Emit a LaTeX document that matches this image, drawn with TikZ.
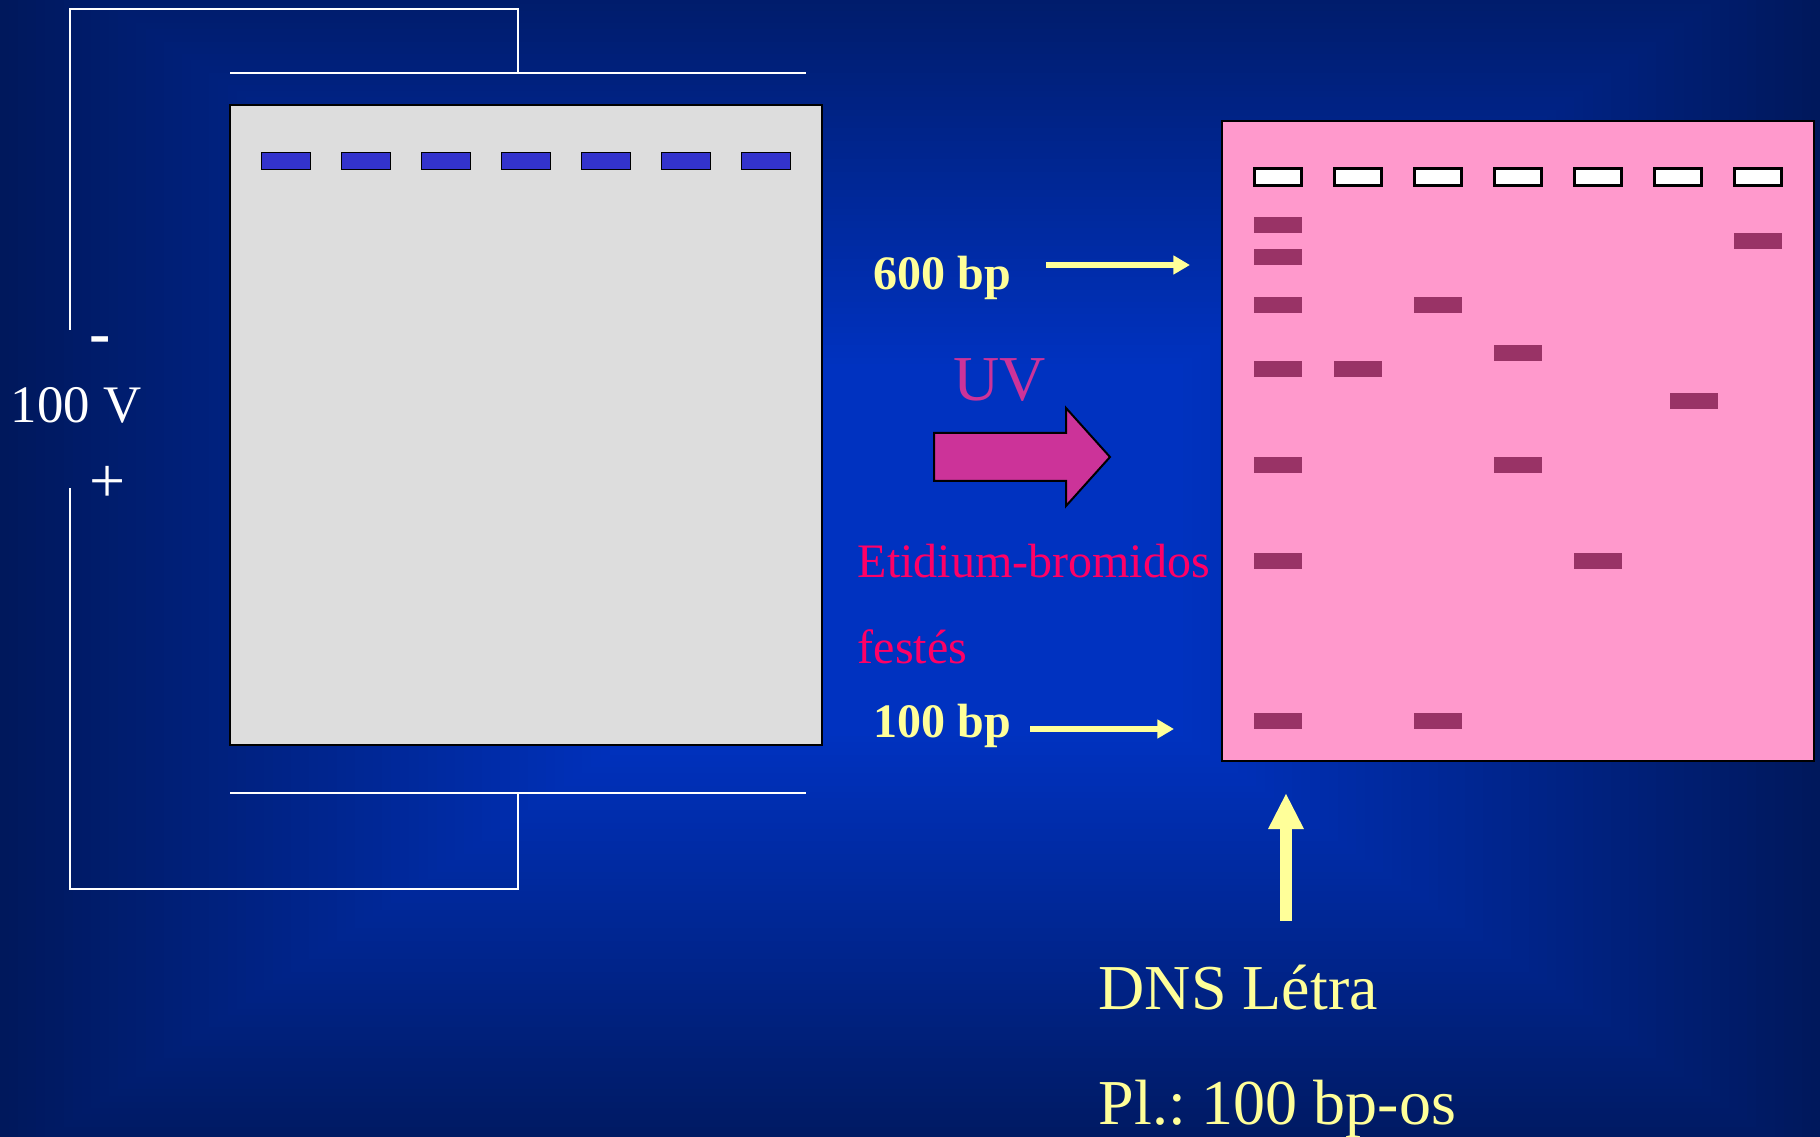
\documentclass[tikz,border=0pt]{standalone}
\usepackage{fontspec}
\setmainfont{Liberation Serif}
\usetikzlibrary{arrows.meta}
\definecolor{bgdark}{RGB}{0,24,92}
\definecolor{bgbright}{RGB}{0,50,192}
\definecolor{gelgray}{RGB}{221,221,221}
\definecolor{wellblue}{RGB}{51,51,204}
\definecolor{gelpink}{RGB}{255,153,204}
\definecolor{bandred}{RGB}{153,51,102}
\definecolor{uvpink}{RGB}{204,51,153}
\definecolor{dyered}{RGB}{255,0,102}
\definecolor{labelyellow}{RGB}{255,255,153}
\frenchspacing
\tikzset{
  every node/.style={inner sep=0pt, anchor=base west},
  wire/.style={draw=white, line width=0.02cm, line cap=rect},
  gel/.style={draw=black, line width=0.022cm, anchor=center,
    minimum width=5.92cm, minimum height=6.4cm},
  well/.style={draw=black, line width=0.015cm, anchor=center, fill=wellblue,
    minimum width=0.49cm, minimum height=0.17cm},
  open well/.style={well, fill=white, line width=0.025cm, minimum width=0.47cm},
  band/.style={fill=bandred, anchor=center,
    minimum width=0.48cm, minimum height=0.16cm},
  size label/.style={text=labelyellow, font=\fontsize{13.66}{16}\selectfont\bfseries},
  dye label/.style={text=dyered, font=\fontsize{13.66}{16}\selectfont},
  big label/.style={text=labelyellow, font=\fontsize{18.2}{22}\selectfont},
  volt label/.style={text=white, font=\fontsize{15}{18}\selectfont},
  sign label/.style={text=white, font=\fontsize{18.2}{22}\selectfont},
  thin arrow/.style={draw=labelyellow, line width=0.065cm,
    -{Triangle[length=0.165cm, width=0.18cm]}},
  thick arrow/.style={draw=labelyellow, line width=0.12cm,
    -{Triangle[length=0.36cm, width=0.33cm]}}
}

\begin{document}
\begin{tikzpicture}[x=0.01cm, y=-0.01cm]
  \useasboundingbox (0,0) rectangle (1820,1137);

  % background
  \begin{scope}
    \clip (0,0) rectangle (1820,1137);
    \foreach \i in {0,...,70} {
      \pgfmathsetmacro{\pct}{\i/70*100}
      \pgfmathsetmacro{\dx}{910*(1-\i/100)}
      \pgfmathsetmacro{\dy}{620*(1-\i/100)}
      \fill[bgbright!\pct!bgdark] (910-\dx,550-\dy) rectangle (910+\dx,550+\dy);
    }
  \end{scope}

  % tank and wires
  \node[gel, fill=gelgray] (tank) at (526,425) {};
  \coordinate (minusend) at (70,329);
  \coordinate (topjoin) at (518,9);
  \coordinate (topplate) at (518,73);
  \coordinate (plusend) at (70,489);
  \coordinate (bottomjoin) at (518,889);
  \coordinate (bottomplate) at (518,793);
  \coordinate (topleft) at (231,73);
  \coordinate (topright) at (805,73);
  \coordinate (bottomleft) at (231,793);
  \coordinate (bottomright) at (805,793);
  \draw[wire] (minusend) |- (topjoin) -- (topplate);
  \draw[wire] (plusend) |- (bottomjoin) -- (bottomplate);
  \draw[wire] (topleft) -- (topright);
  \draw[wire] (bottomleft) -- (bottomright);
  \node[sign label, font=\fontsize{18.2}{22}\selectfont\bfseries] (minus) at (89,355) {-};
  \node[volt label] (volt) at (10,423) {100 V};
  \node[sign label] (plus) at (89,503) {+};

  % stained gel
  \node[gel, fill=gelpink] (stained) at (1518,441) {};
  \foreach \i in {0,...,6} {
    \node[well] (well\i) at ({286+80*\i},161) {};
    \node[open well] (slot\i) at ({1278+80*\i},177) {};
  }
  \foreach \xpos/\ypos [count=\n] in {1278/225, 1278/257, 1278/305, 1278/369,
      1278/465, 1278/561, 1278/721, 1358/369, 1438/305, 1438/721, 1518/353,
      1518/465, 1598/561, 1694/401, 1758/241} {
    \node[band] (band\n) at (\xpos,\ypos) {};
  }

  % middle
  \node[size label] (sixhundred) at (873,290) {600 bp};
  \node[size label] (onehundred) at (873,737.5) {100 bp};
  \coordinate (sixtail) at (1046,265);
  \coordinate (sixtip) at (1190,265);
  \coordinate (onetail) at (1030,729);
  \coordinate (onetip) at (1174,729);
  \draw[thin arrow] (sixtail) -- (sixtip);
  \draw[thin arrow] (onetail) -- (onetip);
  \node[text=uvpink, font=\fontsize{18.2}{22}\selectfont] (uv) at (953,401) {UV};
  \draw[fill=uvpink, draw=black, line width=0.02cm, line join=miter]
    (934,433) -- (1066,433) -- (1066,408) -- (1110,457) -- (1066,506)
    -- (1066,481) -- (934,481) -- cycle;
  \node[dye label] (dye) at (857,578) {Etidium-bromidos};
  \node[dye label] (stain) at (857,664) {festés};

  % ladder
  \coordinate (laddertail) at (1286,921);
  \coordinate (laddertip) at (1286,793);
  \draw[thick arrow] (laddertail) -- (laddertip);
  \node[big label] (ladder) at (1098,1010) {DNS Létra};
  \node[big label] (example) at (1098,1125) {Pl.: 100 bp-os};
\end{tikzpicture}
\end{document}
